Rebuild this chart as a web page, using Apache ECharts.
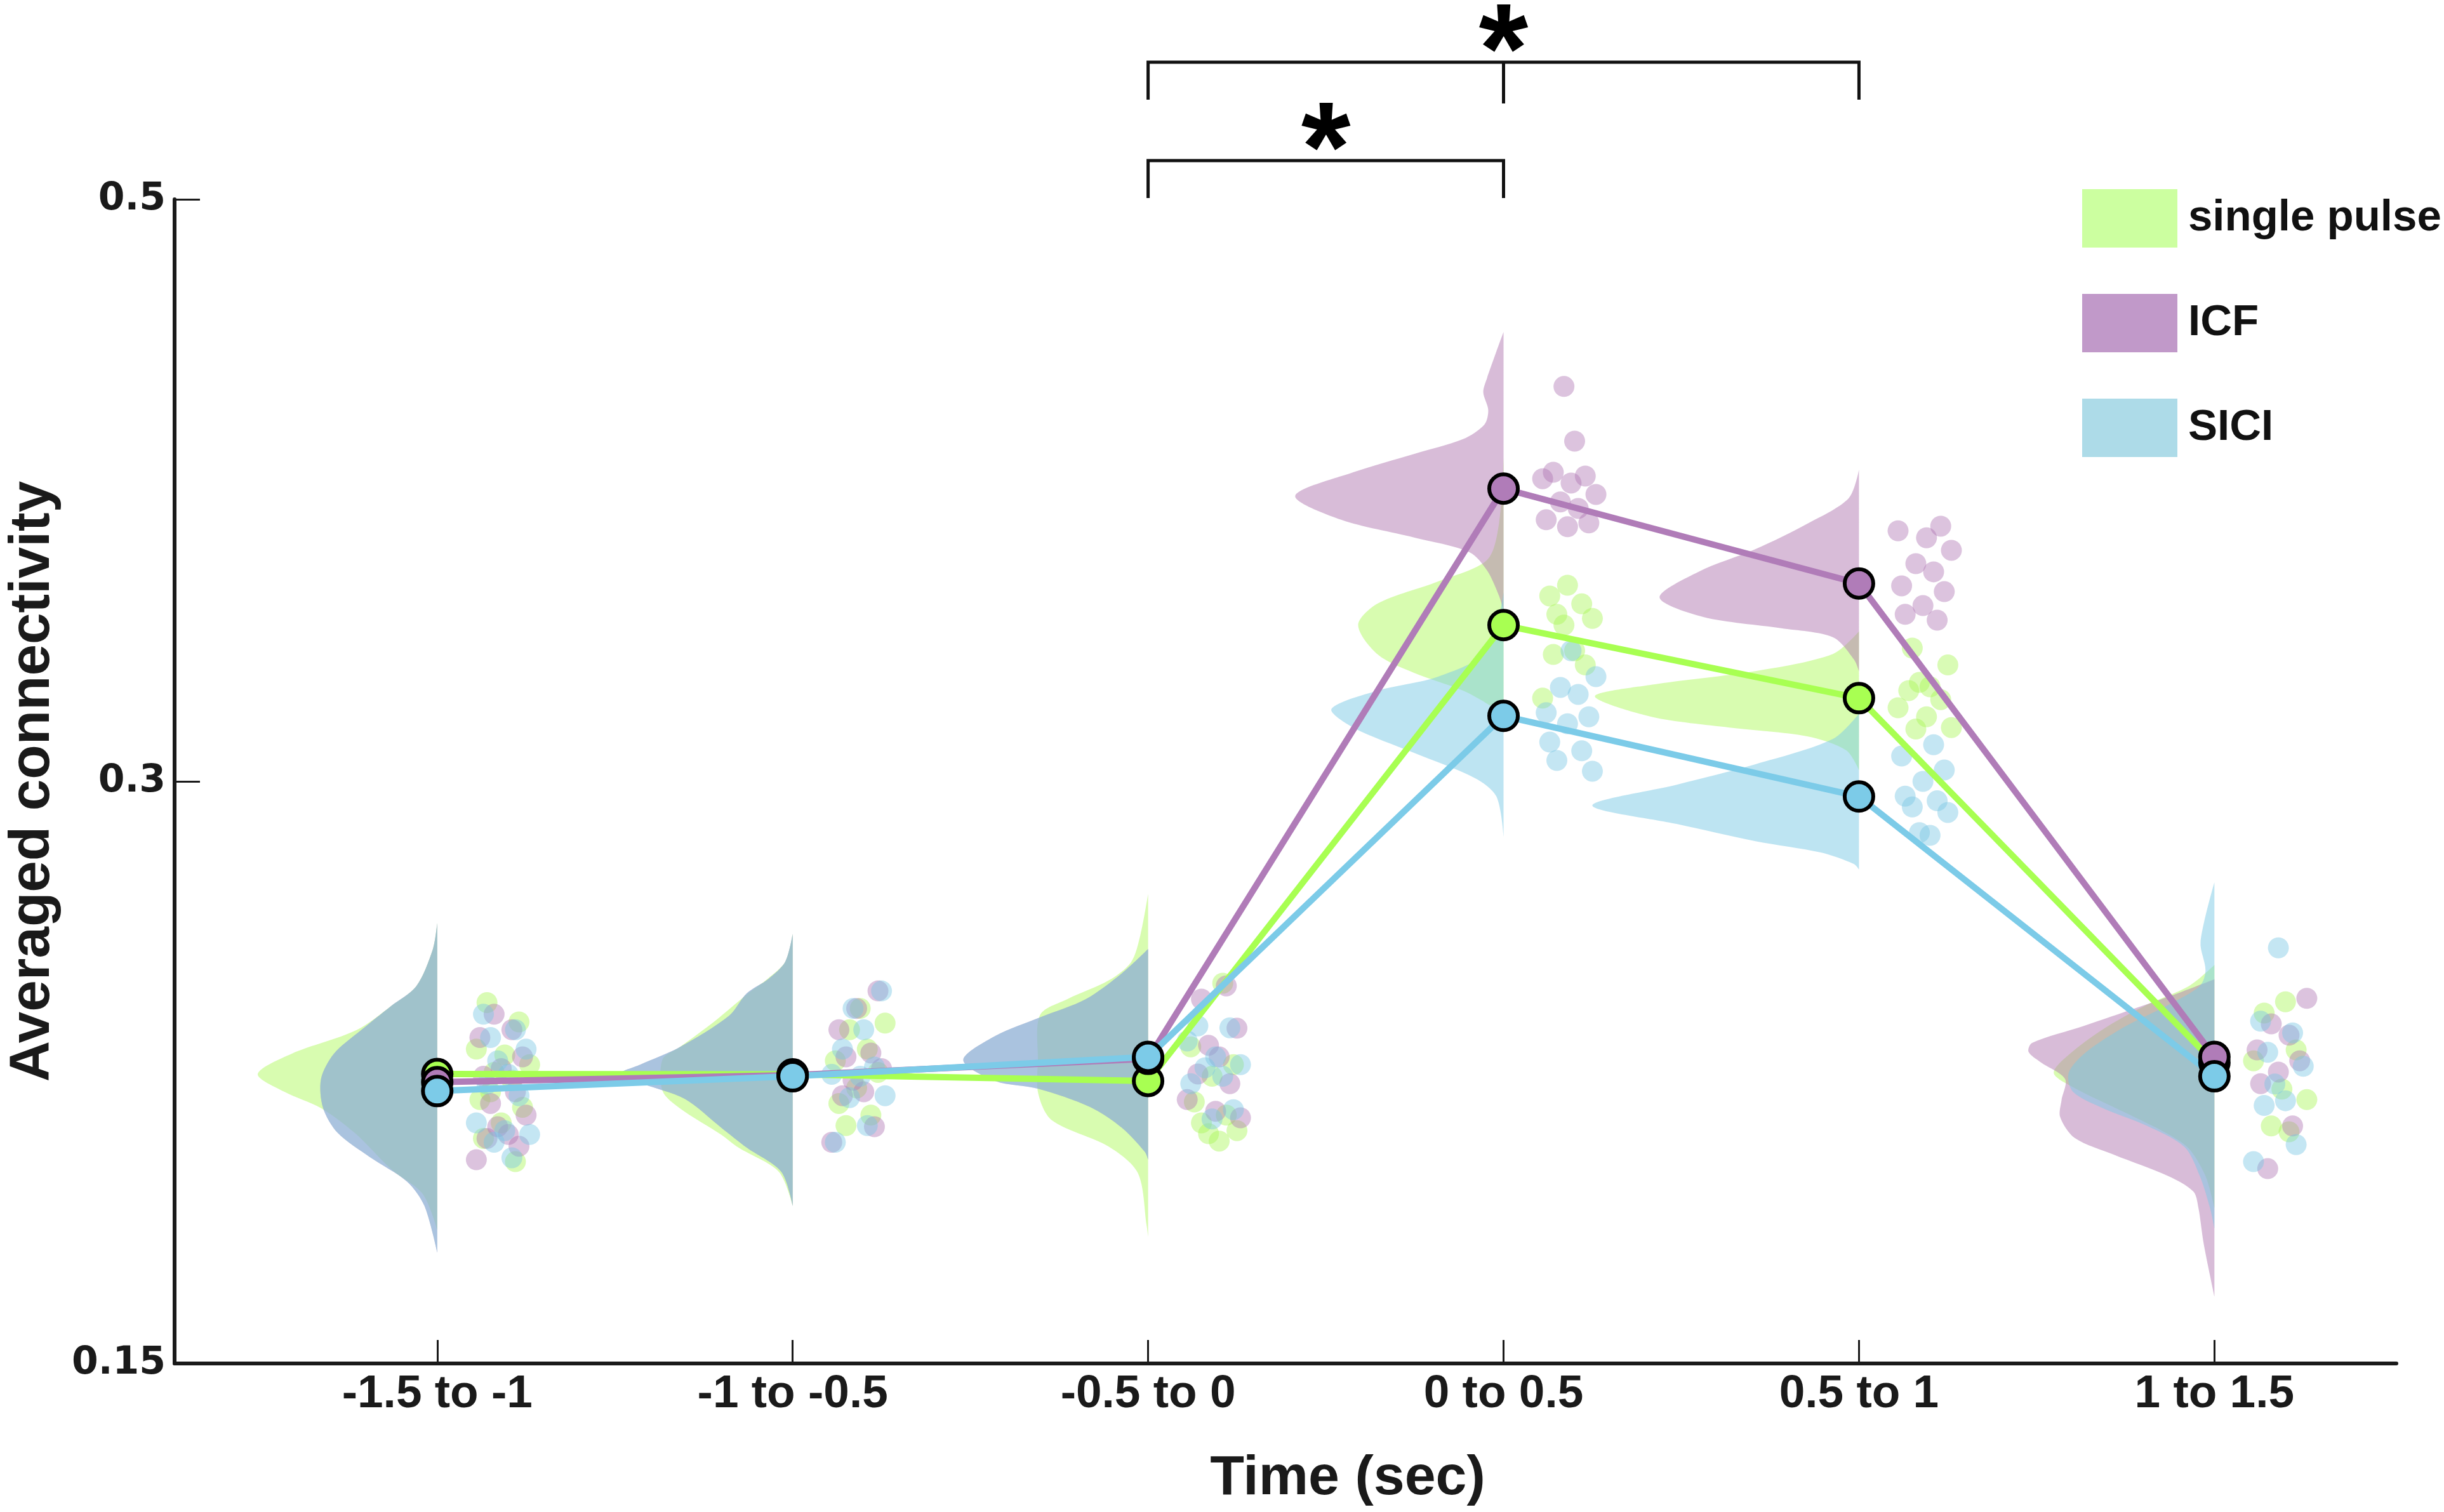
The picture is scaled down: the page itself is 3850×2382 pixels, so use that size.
<!DOCTYPE html>
<html>
<head>
<meta charset="utf-8">
<script src="https://cdn.jsdelivr.net/npm/echarts@6/dist/echarts.min.js"></script>
<style>
  html, body { margin: 0; padding: 0; background: #fff; }
  #chart { width: 3850px; height: 2382px; }
</style>
</head>
<body>
<div id="chart"></div>
<script>
// time bins and y ticks (y ticks are equally spaced on the figure)
const timeBins = ["-1.5 to -1", "-1 to -0.5", "-0.5 to 0", "0 to 0.5", "0.5 to 1", "1 to 1.5"];
const yTickValues = [0.15, 0.3, 0.5];
const yTickLabels = ["0.15", "0.3", "0.5"];

// group means
const spMean = [0.2246, 0.2245, 0.2228, 0.3537, 0.3286, 0.2275];
const icfMean = [0.2225, 0.2243, 0.2285, 0.4006, 0.3680, 0.2290];
const siciMean = [0.2202, 0.2240, 0.2290, 0.3225, 0.2961, 0.2240];

// individual subjects, one list per time bin
const spDots = [
  [0.243, 0.238, 0.231, 0.2295, 0.227, 0.225, 0.223, 0.218, 0.216, 0.212, 0.208, 0.202, 0.220],
  [0.2415, 0.2377, 0.236, 0.231, 0.228, 0.225, 0.221, 0.217, 0.214, 0.2113],
  [0.248, 0.2316, 0.227, 0.224, 0.2174, 0.214, 0.212, 0.210, 0.2092, 0.2073],
  [0.3674, 0.3637, 0.361, 0.3574, 0.356, 0.3537, 0.3449, 0.3436, 0.340, 0.3286],
  [0.3458, 0.340, 0.334, 0.3325, 0.3312, 0.3281, 0.3253, 0.3222, 0.3185, 0.318],
  [0.2432, 0.2403, 0.2308, 0.228, 0.2207, 0.218, 0.2112, 0.2097]
];
const icfDots = [
  [0.240, 0.236, 0.234, 0.229, 0.226, 0.224, 0.220, 0.217, 0.214, 0.211, 0.209, 0.208, 0.206, 0.2025],
  [0.246, 0.2415, 0.236, 0.230, 0.229, 0.226, 0.223, 0.220, 0.219, 0.211, 0.207],
  [0.2473, 0.2439, 0.2364, 0.232, 0.229, 0.2246, 0.2221, 0.218, 0.215, 0.2133],
  [0.4357, 0.4169, 0.4062, 0.4049, 0.4040, 0.4025, 0.3986, 0.3960, 0.3938, 0.3899, 0.3888, 0.3875],
  [0.3877, 0.3861, 0.3837, 0.3794, 0.3748, 0.372, 0.3672, 0.3652, 0.3604, 0.3574, 0.3554],
  [0.2441, 0.2375, 0.2346, 0.2308, 0.228, 0.2251, 0.2221, 0.2112, 0.2002]
];
const siciDots = [
  [0.240, 0.236, 0.234, 0.231, 0.228, 0.2245, 0.222, 0.219, 0.212, 0.210, 0.209, 0.207, 0.203],
  [0.246, 0.2415, 0.236, 0.231, 0.2264, 0.2245, 0.224, 0.219, 0.2185, 0.2113, 0.207],
  [0.237, 0.2365, 0.2331, 0.229, 0.227, 0.2262, 0.224, 0.2221, 0.2154, 0.213],
  [0.3449, 0.336, 0.3323, 0.3299, 0.3236, 0.3222, 0.3198, 0.3135, 0.3105, 0.3072, 0.3035],
  [0.3126, 0.3087, 0.3039, 0.300, 0.2962, 0.295, 0.2934, 0.292, 0.2868, 0.2861],
  [0.2571, 0.2382, 0.2352, 0.2302, 0.2266, 0.222, 0.2177, 0.2165, 0.2064, 0.202]
];

// half-violin outlines: [value, density width in bin units], top to bottom
const spViolin = [
  [[0.2635,0],[0.2567,0.0125],[0.2472,0.059],[0.2421,0.13],[0.2359,0.227],[0.2298,0.41],[0.2246,0.505],[0.2200,0.43],[0.2158,0.327],[0.2094,0.232],[0.2001,0.13],[0.1937,0.041],[0.1844,0]],
  [[0.2607,0],[0.2535,0.021],[0.2491,0.071],[0.2454,0.125],[0.2383,0.218],[0.2315,0.318],[0.2284,0.366],[0.2202,0.366],[0.2158,0.318],[0.2089,0.2],[0.2056,0.152],[0.1994,0.039],[0.1906,0]],
  [[0.2710,0],[0.2603,0.022],[0.2534,0.048],[0.2487,0.111],[0.2439,0.227],[0.2398,0.304],[0.2282,0.31],[0.2195,0.309],[0.2127,0.271],[0.2059,0.111],[0.1991,0.029],[0.1855,0.004],[0.1827,0]],
  [[0.4112,0],[0.3888,0.0125],[0.3761,0.046],[0.3687,0.184],[0.3611,0.354],[0.3537,0.409],[0.3436,0.354],[0.3373,0.252],[0.3312,0.114],[0.3262,0.04],[0.3220,0]],
  [[0.3515,0],[0.3438,0.073],[0.3379,0.291],[0.3332,0.584],[0.3292,0.743],[0.3222,0.584],[0.3185,0.364],[0.3155,0.146],[0.3107,0.036],[0.3039,0]],
  [[0.2527,0],[0.2473,0.071],[0.2424,0.191],[0.2369,0.30],[0.2303,0.40],[0.2249,0.452],[0.2212,0.398],[0.2146,0.25],[0.2091,0.13],[0.2053,0.071],[0.1983,0.025],[0.1901,0]]
];
const icfViolin = [
  [[0.2635,0],[0.2567,0.0125],[0.2472,0.059],[0.2421,0.13],[0.2359,0.214],[0.2298,0.291],[0.2233,0.327],[0.2158,0.321],[0.2094,0.28],[0.2032,0.19],[0.1968,0.084],[0.1906,0.036],[0.1786,0]],
  [[0.2607,0],[0.2535,0.021],[0.2491,0.068],[0.2454,0.129],[0.2396,0.179],[0.2315,0.318],[0.2270,0.429],[0.2246,0.486],[0.2220,0.42],[0.2182,0.304],[0.2107,0.2],[0.2056,0.129],[0.1994,0.032],[0.1906,0]],
  [[0.2568,0],[0.2506,0.073],[0.2439,0.175],[0.2392,0.304],[0.2344,0.43],[0.2282,0.52],[0.2228,0.43],[0.2208,0.309],[0.2161,0.163],[0.2107,0.073],[0.2045,0.009],[0.2025,0]],
  [[0.4544,0],[0.4387,0.046],[0.4337,0.057],[0.4276,0.043],[0.4226,0.054],[0.4176,0.114],[0.4125,0.252],[0.4062,0.423],[0.3981,0.586],[0.3899,0.457],[0.3838,0.252],[0.3787,0.095],[0.3724,0.046],[0.3637,0.0125],[0.3587,0]],
  [[0.4071,0],[0.3973,0.029],[0.3885,0.146],[0.3798,0.291],[0.3720,0.452],[0.3632,0.561],[0.3565,0.438],[0.3526,0.218],[0.3495,0.073],[0.3419,0.014],[0.3379,0]],
  [[0.2490,0],[0.2455,0.1],[0.2418,0.214],[0.2369,0.37],[0.2326,0.513],[0.2303,0.523],[0.2277,0.49],[0.2233,0.42],[0.2179,0.43],[0.2135,0.434],[0.2081,0.393],[0.2037,0.28],[0.1983,0.13],[0.1943,0.059],[0.1901,0.045],[0.1808,0.03],[0.1673,0]]
];
const siciViolin = [
  [[0.2635,0],[0.2567,0.0125],[0.2472,0.059],[0.2421,0.13],[0.2359,0.214],[0.2298,0.291],[0.2233,0.327],[0.2158,0.321],[0.2094,0.28],[0.2032,0.19],[0.1968,0.084],[0.1906,0.036],[0.1786,0]],
  [[0.2607,0],[0.2535,0.021],[0.2491,0.068],[0.2454,0.129],[0.2396,0.179],[0.2315,0.318],[0.2270,0.429],[0.2246,0.486],[0.2220,0.42],[0.2182,0.304],[0.2107,0.2],[0.2056,0.129],[0.1994,0.032],[0.1906,0]],
  [[0.2568,0],[0.2506,0.073],[0.2439,0.175],[0.2392,0.304],[0.2344,0.43],[0.2282,0.52],[0.2228,0.43],[0.2208,0.309],[0.2161,0.163],[0.2107,0.073],[0.2045,0.009],[0.2025,0]],
  [[0.3650,0],[0.3449,0.046],[0.3360,0.184],[0.3312,0.354],[0.3249,0.484],[0.3185,0.423],[0.3098,0.252],[0.3011,0.08],[0.2961,0.02],[0.2858,0]],
  [[0.3233,0],[0.3146,0.073],[0.3059,0.291],[0.2992,0.511],[0.2938,0.75],[0.2890,0.511],[0.2846,0.291],[0.2817,0.109],[0.2787,0.014],[0.2773,0]],
  [[0.2740,0],[0.2586,0.039],[0.2513,0.025],[0.2473,0.041],[0.2424,0.13],[0.2369,0.25],[0.2303,0.36],[0.2249,0.41],[0.2200,0.398],[0.2156,0.309],[0.2113,0.191],[0.2058,0.084],[0.1983,0.041],[0.1901,0.0125],[0.1848,0]]
];

// significant comparisons (bin index pairs)
const sigPairs = [[2, 4], [2, 3]];

// deterministic horizontal jitter for the dots (bin units, right of the bin)
const jitter = [0.14, 0.23, 0.11, 0.19, 0.26, 0.16, 0.21, 0.12, 0.24, 0.18, 0.13, 0.22, 0.15, 0.25, 0.17, 0.20];

const FONT = "Liberation Sans, Arial, sans-serif";
const WIDE = "DejaVu Sans, Verdana, sans-serif";

// the axis is drawn with equal spacing between 0.15, 0.3 and 0.5
function toPos(v) {
  if (v <= yTickValues[1]) return (v - yTickValues[0]) / (yTickValues[1] - yTickValues[0]);
  return 1 + (v - yTickValues[1]) / (yTickValues[2] - yTickValues[1]);
}

const groups = [
  { name: "single pulse", mean: spMean, dots: spDots, violin: spViolin,
    line: "#a8ff52", fill: "rgba(177,249,97,0.5)", dot: "rgba(168,246,86,0.55)", key: "#ccffa0" },
  { name: "ICF", mean: icfMean, dots: icfDots, violin: icfViolin,
    line: "#b07cb8", fill: "rgba(177,121,177,0.5)", dot: "rgba(176,118,180,0.55)", key: "#c199c9" },
  { name: "SICI", mean: siciMean, dots: siciDots, violin: siciViolin,
    line: "#7ccbe8", fill: "rgba(123,201,229,0.5)", dot: "rgba(120,198,228,0.55)", key: "#addbe8" }
];

const series = [];

groups.forEach(function (g) {
  series.push({
    type: "custom",
    name: g.name,
    coordinateSystem: "cartesian2d",
    clip: false,
    z: 1,
    silent: true,
    data: timeBins.map(function (_, k) { return [k, 1]; }),
    renderItem: function (params, api) {
      const k = params.dataIndex;
      const edge = api.coord([k, 0])[0];
      const pts = g.violin[k].map(function (p) { return api.coord([k - p[1], toPos(p[0])]); });
      return {
        type: "polyline",
        shape: { points: pts, smooth: 0.3, smoothConstraint: [[-1e6, -1e6], [edge, 1e6]] },
        style: { fill: g.fill, stroke: null, lineWidth: 0 }
      };
    }
  });
});

groups.forEach(function (g, gi) {
  const data = [];
  g.dots.forEach(function (list, k) {
    list.forEach(function (v, i) {
      data.push([k + jitter[(i + gi * 5 + k * 3) % jitter.length], toPos(v)]);
    });
  });
  series.push({
    type: "scatter",
    name: g.name,
    z: 2,
    silent: true,
    symbolSize: 33,
    itemStyle: { color: g.dot },
    data: data
  });
});

groups.forEach(function (g) {
  series.push({
    type: "line",
    name: g.name,
    z: 3,
    symbol: "circle",
    symbolSize: 45,
    lineStyle: { color: g.line, width: 10 },
    itemStyle: { color: g.line, borderColor: "#000", borderWidth: 6 },
    data: g.mean.map(function (v, k) { return [k, toPos(v)]; })
  });
});

// significance brackets and stars above the plot
series.push({
  type: "custom",
  coordinateSystem: "cartesian2d",
  clip: false,
  silent: true,
  z: 4,
  data: sigPairs,
  renderItem: function (params, api) {
    const a = api.value(0), b = api.value(1);
    const top = params.coordSys.y;
    const x1 = api.coord([a, 0])[0];
    const x2 = api.coord([b, 0])[0];
    const level = params.dataIndex === 0 ? 216 : 61;
    const yh = top - level;
    const yv = yh + 59;
    const lineStyle = { stroke: "#111", lineWidth: 5, fill: "none" };
    const children = [
      { type: "polyline", shape: { points: [[x1, yv], [x1, yh], [x2, yh], [x2, yv]] }, style: lineStyle },
      {
        type: "text",
        style: {
          text: "*", x: (x1 + x2) / 2, y: yh + 92,
          fill: "#000", font: "bold 200px " + FONT,
          textAlign: "center", textVerticalAlign: "bottom"
        }
      }
    ];
    if (b - a === 2) {
      const xm = api.coord([a + 1, 0])[0];
      children.push({ type: "line", shape: { x1: xm, y1: yh, x2: xm, y2: yv + 6 }, style: lineStyle });
    }
    return { type: "group", children: children };
  }
});

const chart = echarts.init(document.getElementById("chart"));
chart.setOption({
  animation: false,
  backgroundColor: "#fff",
  grid: { left: 265, top: 314, right: 75, bottom: 234, containLabel: false },
  legend: {
    orient: "vertical",
    left: 3275,
    top: 293,
    icon: "rect",
    itemWidth: 150,
    itemHeight: 92,
    itemGap: 73,
    selectedMode: false,
    textStyle: { fontSize: 69, fontWeight: "bold", color: "#111", fontFamily: FONT, padding: [0, 0, 0, 12] },
    data: groups.map(function (g) {
      return { name: g.name, itemStyle: { color: g.key, borderWidth: 0, opacity: 1 } };
    })
  },
  xAxis: {
    type: "value",
    min: -0.739,
    max: 5.512,
    splitLine: { show: false },
    axisLine: { onZero: false, lineStyle: { color: "#1a1a1a", width: 6 } },
    axisTick: { inside: true, length: 37, customValues: [0, 1, 2, 3, 4, 5], lineStyle: { color: "#1a1a1a", width: 3 } },
    axisLabel: {
      customValues: [0, 1, 2, 3, 4, 5],
      formatter: function (v) { return timeBins[Math.round(v)]; },
      fontSize: 73, fontWeight: "bold", color: "#1a1a1a", fontFamily: FONT, margin: 12
    },
    name: "Time (sec)",
    nameLocation: "middle",
    nameGap: 138,
    nameTextStyle: { fontSize: 88, fontWeight: "bold", color: "#1a1a1a", fontFamily: FONT, padding: [0, 0, 0, 196] }
  },
  yAxis: {
    type: "value",
    min: 0,
    max: 2,
    interval: 1,
    splitLine: { show: false },
    axisLine: { show: true, onZero: false, lineStyle: { color: "#1a1a1a", width: 6 } },
    axisTick: { show: true, inside: true, length: 40, lineStyle: { color: "#1a1a1a", width: 3 } },
    axisLabel: {
      formatter: function (v) { return yTickLabels[Math.round(v)]; },
      fontSize: 60, fontWeight: "bold", color: "#1a1a1a", fontFamily: WIDE, margin: 14
    },
    name: "Averaged connectivity",
    nameLocation: "middle",
    nameGap: 178,
    nameTextStyle: { fontSize: 89, fontWeight: "bold", color: "#1a1a1a", fontFamily: FONT }
  },
  series: series
});
</script>
</body>
</html>
